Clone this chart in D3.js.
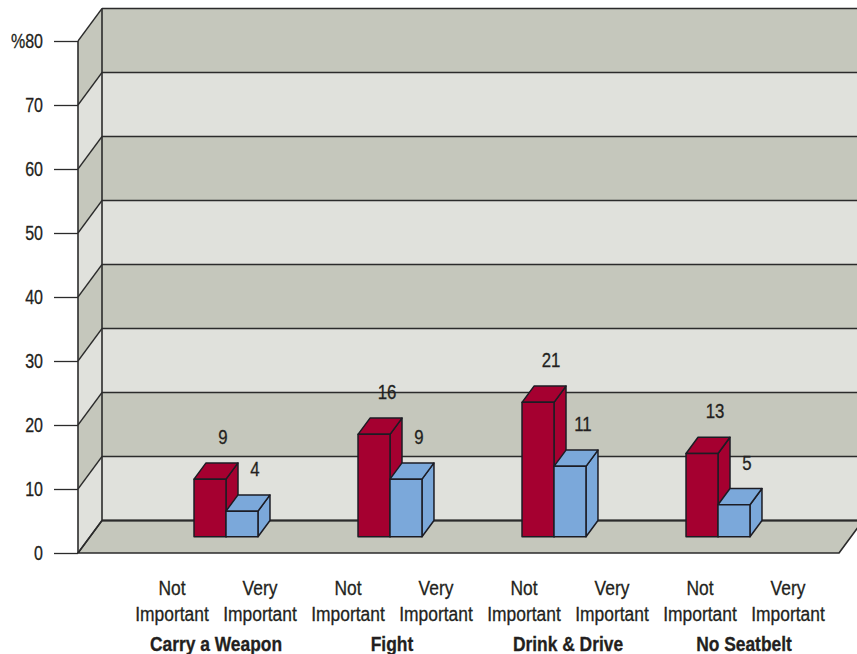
<!DOCTYPE html>
<html><head><meta charset="utf-8">
<script src="https://cdn.jsdelivr.net/npm/d3@7"></script>
<style>
html,body{margin:0;padding:0;background:#fff;}
svg text{font-family:"Liberation Sans",Arial,sans-serif;fill:#231f20;stroke:#231f20;stroke-width:0.3px;}
</style></head>
<body>
<svg id="chart" width="857" height="654"></svg>
<script>
// ---- data ----
const categories = ["Carry a Weapon", "Fight", "Drink & Drive", "No Seatbelt"];
const series = ["Not Important", "Very Important"];
const notImportant = [9, 16, 21, 13];
const veryImportant = [4, 9, 11, 5];
const yTicks = [0, 10, 20, 30, 40, 50, 60, 70, 80];
const yTickLabels = ["0", "10", "20", "30", "40", "50", "60", "70", "%80"];
const seriesLines = [["Not", "Important"], ["Very", "Important"]];

// ---- layout ----
const svg = d3.select("#chart");
const W = 857;
const frontLeft = 78, frontRight = 839;
const depthX = 24, depthY = -32.5;
const barDepth = 0.5;
const y = d3.scaleLinear().domain([0, 80]).range([553, 41]);

const dark = "#c5c7bc", light = "#e0e1dc", lineC = "#2b2b2b";
const redC = "#a50030", blueC = "#7ba8da";

// condensed text helper (horizontal squeeze)
function ctext(parent, x, yy, str, opts) {
  const o = Object.assign({size: 20, sx: 0.85, anchor: "middle", weight: "normal"}, opts || {});
  return parent.append("text")
    .attr("transform", `translate(${x},${yy}) scale(${o.sx},1)`)
    .attr("text-anchor", o.anchor).attr("font-size", o.size).attr("font-weight", o.weight)
    .text(str);
}

// back wall bands
const bands = d3.range(0, 8);
svg.append("g").selectAll("rect").data(bands).join("rect")
  .attr("x", frontLeft + depthX).attr("width", W + 20 - frontLeft - depthX)
  .attr("y", d => y(d * 10 + 10) + depthY)
  .attr("height", d => y(d * 10) - y(d * 10 + 10))
  .attr("fill", d => d % 2 ? dark : light);

// side wall bands
svg.append("g").selectAll("path").data(bands).join("path")
  .attr("d", d => {
    const a = y(d * 10), b = y(d * 10 + 10);
    return `M${frontLeft},${a}L${frontLeft},${b}L${frontLeft + depthX},${b + depthY}L${frontLeft + depthX},${a + depthY}Z`;
  })
  .attr("fill", d => d % 2 ? dark : light);

// floor
svg.append("path")
  .attr("d", `M${frontLeft},${y(0)}L${frontLeft + depthX},${y(0) + depthY}L${frontRight + depthX},${y(0) + depthY}L${frontRight},${y(0)}Z`)
  .attr("fill", dark).attr("stroke", lineC).attr("stroke-width", 1.6).attr("stroke-linejoin", "round");

// grid lines
const grid = svg.append("g").attr("stroke", lineC).attr("fill", "none");
grid.selectAll("line.back").data(yTicks).join("line").attr("class", "back")
  .attr("x1", frontLeft + depthX).attr("x2", W + 20)
  .attr("y1", d => y(d) + depthY).attr("y2", d => y(d) + depthY)
  .attr("stroke-width", d => d === 0 ? 2 : 1.3);
grid.selectAll("line.side").data(yTicks).join("line").attr("class", "side")
  .attr("x1", frontLeft).attr("x2", frontLeft + depthX)
  .attr("y1", d => y(d)).attr("y2", d => y(d) + depthY)
  .attr("stroke-width", 1.3);
grid.append("line").attr("x1", frontLeft + depthX).attr("x2", frontLeft + depthX)
  .attr("y1", y(80) + depthY).attr("y2", y(0) + depthY).attr("stroke-width", 1.6);

// y axis
const axis = d3.axisLeft(y).tickValues(yTicks).tickSize(24).tickFormat("");
const ag = svg.append("g").attr("transform", `translate(${frontLeft},0)`).call(axis);
ag.select(".domain").attr("stroke", lineC).attr("stroke-width", 1.6).attr("d", `M0,${y(80)}V${y(0)}`);
ag.selectAll(".tick line").attr("stroke", lineC).attr("stroke-width", 1.3);
yTicks.forEach((t, i) => ctext(svg, 43, y(t) + 7, yTickLabels[i], {anchor: "end", sx: 0.8}));

// ---- bars ----
const xBar = d3.scaleBand().domain(categories).range([144, 800]).paddingInner(0.61).paddingOuter(0.305);
const xSub = d3.scaleBand().domain(series).range([0, xBar.bandwidth()]);
const bx = depthX * barDepth, by = depthY * barDepth;
const vals = [notImportant, veryImportant];
const barData = [];
categories.forEach((c, ci) => series.forEach((s, si) => barData.push({c, s, si, v: vals[si][ci]})));

const bars = svg.append("g").attr("stroke", "#1c1c24").attr("stroke-width", 1.5).attr("stroke-linejoin", "round");
const vlab = svg.append("g");
barData.forEach(d => {
  const x0 = xBar(d.c) + xSub(d.s), x1 = x0 + xSub.bandwidth();
  const yb = y(0) + by, yt = y(d.v) + by;
  const col = d.si === 0 ? redC : blueC;
  const g = bars.append("g").attr("fill", col);
  g.append("path").attr("d", `M${x1},${yb}L${x1 + bx},${yb + by}L${x1 + bx},${yt + by}L${x1},${yt}Z`);
  g.append("path").attr("d", `M${x0},${yt}L${x0 + bx},${yt + by}L${x1 + bx},${yt + by}L${x1},${yt}Z`);
  g.append("rect").attr("x", x0).attr("y", yt).attr("width", x1 - x0).attr("height", yb - yt);
  ctext(vlab, (x0 + x1) / 2 + bx + 1, yt + by - 19, d.v, {size: 20.5, sx: 0.82});
});

// ---- category labels ----
const xLab = d3.scaleBand().domain(categories).range([128, 832]);
const xLabSub = d3.scaleBand().domain(series).range([0, xLab.bandwidth()]);
const lab = svg.append("g");
categories.forEach(c => {
  series.forEach((s, si) => {
    const cx = xLab(c) + xLabSub(s) + xLabSub.bandwidth() / 2;
    ctext(lab, cx, 595, seriesLines[si][0], {sx: 0.87});
    ctext(lab, cx, 620.7, seriesLines[si][1], {sx: 0.87});
  });
  ctext(lab, xLab(c) + xLab.bandwidth() / 2, 651, c, {weight: "bold", sx: 0.87});
});
</script>
</body></html>
